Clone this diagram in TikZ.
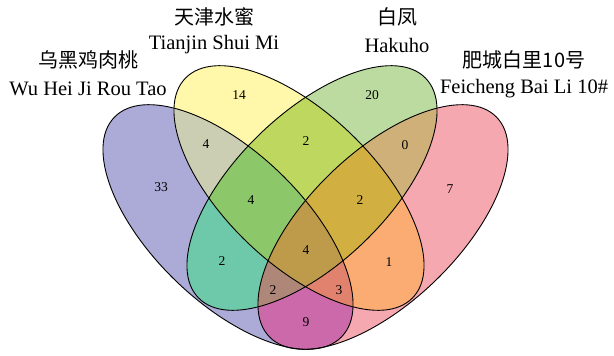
\documentclass[tikz,border=0pt]{standalone}
\usepackage{fontspec}
\setmainfont{Liberation Serif}
\newfontfamily\cjk{Noto Sans CJK SC}
\definecolor{cA}{HTML}{ACAAD6}
\definecolor{cB}{HTML}{FFF7AA}
\definecolor{cC}{HTML}{BBDBA0}
\definecolor{cD}{HTML}{F6A8B0}
\definecolor{cAB}{HTML}{CCCEB4}
\definecolor{cAC}{HTML}{6EC8AA}
\definecolor{cAD}{HTML}{CB69AA}
\definecolor{cBC}{HTML}{BED75F}
\definecolor{cBD}{HTML}{FAAC73}
\definecolor{cCD}{HTML}{CEB078}
\definecolor{cABC}{HTML}{8CC869}
\definecolor{cABD}{HTML}{E1826E}
\definecolor{cACD}{HTML}{AF8778}
\definecolor{cBCD}{HTML}{D2AF41}
\definecolor{cABCD}{HTML}{BE9B4B}
\def\EA{(228,227) ellipse [x radius=158pt, y radius=75pt, rotate=-44]}
\def\EB{(299,188) ellipse [x radius=158pt, y radius=75pt, rotate=-44]}
\def\EC{(312,188) ellipse [x radius=158pt, y radius=75pt, rotate=44]}
\def\ED{(383,227) ellipse [x radius=158pt, y radius=75pt, rotate=44]}
\tikzset{
  num/.style={font=\fontsize{13.5}{15}\selectfont, inner sep=0pt},
  latlab/.style={font=\fontsize{20.5}{22}\selectfont, inner sep=0pt},
  cjklab/.style={font=\fontsize{20}{22}\selectfont\cjk, inner sep=0pt},
  outline/.style={draw=black, line width=0.9pt}
}
\begin{document}
\begin{tikzpicture}[x=1pt,y=-1pt]
\useasboundingbox (0,0) rectangle (614,356);
% singles
\fill[cA] \EA;
\fill[cB] \EB;
\fill[cC] \EC;
\fill[cD] \ED;
% pairs
\begin{scope}\clip \EA; \fill[cAB] \EB; \end{scope}
\begin{scope}\clip \EA; \fill[cAC] \EC; \end{scope}
\begin{scope}\clip \EA; \fill[cAD] \ED; \end{scope}
\begin{scope}\clip \EB; \fill[cBC] \EC; \end{scope}
\begin{scope}\clip \EB; \fill[cBD] \ED; \end{scope}
\begin{scope}\clip \EC; \fill[cCD] \ED; \end{scope}
% triples
\begin{scope}\clip \EA; \clip \EB; \fill[cABC] \EC; \end{scope}
\begin{scope}\clip \EA; \clip \EB; \fill[cABD] \ED; \end{scope}
\begin{scope}\clip \EA; \clip \EC; \fill[cACD] \ED; \end{scope}
\begin{scope}\clip \EB; \clip \EC; \fill[cBCD] \ED; \end{scope}
% quadruple
\begin{scope}\clip \EA; \clip \EB; \clip \EC; \fill[cABCD] \ED; \end{scope}
% outlines
\draw[outline] \EA;
\draw[outline] \EB;
\draw[outline] \EC;
\draw[outline] \ED;
% counts
\node[num] (nA) at (161,187) {33};
\node[num] (nB) at (239,95) {14};
\node[num] (nC) at (372,95) {20};
\node[num] (nD) at (450,189) {7};
\node[num] (nAB) at (206,144) {4};
\node[num] (nBC) at (306,141) {2};
\node[num] (nCD) at (405,145) {0};
\node[num] (nAC) at (222,261) {2};
\node[num] (nBD) at (389,262) {1};
\node[num] (nAD) at (306,322) {9};
\node[num] (nABC) at (251,200) {4};
\node[num] (nBCD) at (360,200) {2};
\node[num] (nACD) at (273,290) {2};
\node[num] (nABD) at (339,290) {3};
\node[num] (nABCD) at (306,250) {4};
% category labels
\node[cjklab] (tA1) at (88,60) {乌黑鸡肉桃};
\node[latlab] (tA2) at (88,89) {Wu Hei Ji Rou Tao};
\node[cjklab] (tB1) at (214,17) {天津水蜜};
\node[latlab] (tB2) at (214,45) {Tianjin Shui Mi};
\node[cjklab] (tC1) at (397,17) {白凤};
\node[latlab] (tC2) at (397,45) {Hakuho};
\node[cjklab] (tD1) at (524,60) {肥城白里10号};
\node[latlab] (tD2) at (524,89) {Feicheng Bai Li 10\#};
\end{tikzpicture}
\end{document}
